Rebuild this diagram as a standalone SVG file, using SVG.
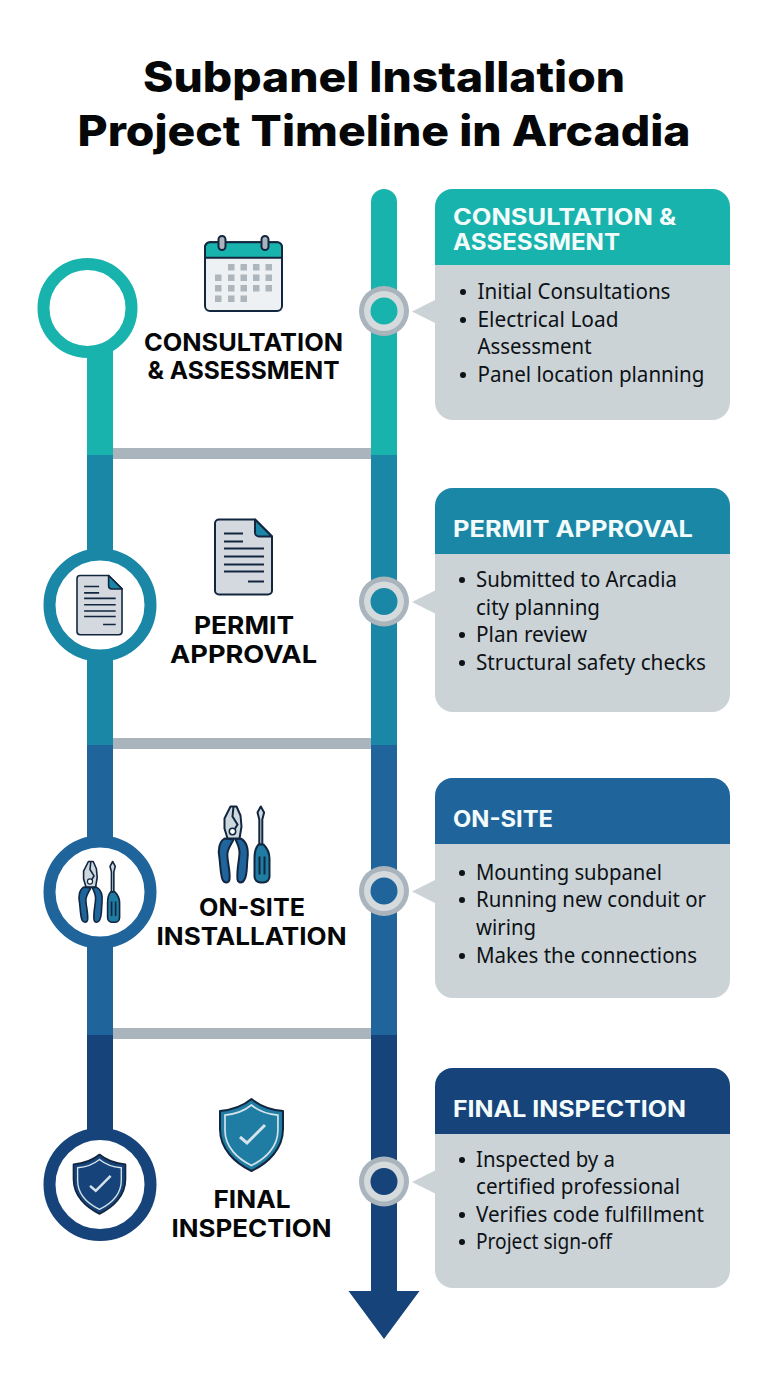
<svg xmlns="http://www.w3.org/2000/svg" xmlns:xlink="http://www.w3.org/1999/xlink" width="768" height="1376" viewBox="0 0 768 1376">
<style>
.title{font:800 42px Inter,"Liberation Sans",sans-serif;fill:#050708}
.lab{font:700 24.500px Inter,"Liberation Sans",sans-serif;fill:#050708}
.hd{font:700 22.500px Inter,"Liberation Sans",sans-serif;fill:#f4fbfb}
.li{font:400 21.500px "Noto Sans","Liberation Sans",sans-serif;fill:#0c1216}
.card{fill:#ccd3d7}
.bul{fill:#0c1216}
.rung{fill:#a9b4bd}
.ico{stroke:#12263f;stroke-width:2;stroke-linejoin:round}
.ln{stroke:#12263f;stroke-width:2;fill:none}
.sq{fill:#aeb6bd}
.hl{fill:none;stroke:#d5e3ea;stroke-width:2}
.ck{fill:none;stroke:#d5e3ea;stroke-width:3}
.r1{fill:#a9b4bd}.r2{fill:#d5dadd}
</style>
<defs>
<g id="doc">
<path class="ico" fill="#d3d9de" d="M4,0H40L57,17V71a4,4 0 0 1-4,4H4a4,4 0 0 1-4-4V4a4,4 0 0 1 4-4Z"/>
<path class="ico" fill="#1b87a7" d="M40,0L57,17H44a4,4 0 0 1-4-4Z"/>
<path class="ln" d="M9,14H28M9,22H28M9,29H49M9,37H49M9,45H49M9,52H49M33,62H49"/>
</g>
<g id="tools">
<path class="ico" fill="#cdd8df" d="M13,0H19L23,9L24,20L22,32H10L7,22L7,12Z"/>
<path class="ln" stroke-width="1.500" d="M16,0L15,10L20,18L17,23"/>
<circle cx="15" cy="25" r="3.200" fill="#fff" stroke="#12263f" stroke-width="1.500"/>
<path class="ico" fill="#1f659b" d="M7,32C2,35 0,43 2,52C3,60 3,68 5,73C7,77 11,77 12,73C13,63 9,53 10,46C11,41 14,37 16,33Z"/>
<path class="ico" fill="#1f659b" d="M23,32C29,35 31,43 30,52C29,60 30,68 27,73C25,77 21,77 20,73C19,63 22,53 22,46C22,41 20,37 18,33Z"/>
<path class="ico" fill="#cdd8df" stroke-width="1.500" d="M41.800,38V13L40,6L43.300,0L46.600,6L44.800,13V38Z"/>
<path class="ico" fill="#1f7ca3" d="M41,38H46C49,41 52,45 52,52V70A6,6 0 0 1 46,76H43A6,6 0 0 1 37,70V52C37,45 38,41 41,38Z"/>
<path class="ln" stroke-width="1.200" d="M42,50V68M47,50V68"/>
</g>
<path id="shieldP" d="M31.500,0C40,7 52,11 63,12V30C63,50 48,64 31.500,72C15,64 0,50 0,30V12C11,11 23,7 31.500,0Z"/>
<g id="shieldD">
<path class="hl" transform="translate(5,6) scale(.84)" d="M31.500,0C40,7 52,11 63,12V30C63,50 48,64 31.500,72C15,64 0,50 0,30V12C11,11 23,7 31.500,0Z"/>
<path class="ck" d="M20,38L27,44L45,26"/>
</g>
</defs>
<rect width="768" height="1376" fill="#fff"/>
<g id="title">
<text class="title" x="384" y="92" text-anchor="middle" textLength="482" lengthAdjust="spacingAndGlyphs">Subpanel Installation</text>
<text class="title" x="384" y="146" text-anchor="middle" textLength="613" lengthAdjust="spacingAndGlyphs">Project Timeline in Arcadia</text>
</g>
<g id="connectors">
<rect class="rung" x="113" y="448" width="258" height="11"/>
<rect class="rung" x="113" y="738" width="258" height="11"/>
<rect class="rung" x="113" y="1028" width="258" height="11"/>
<rect x="87" y="340" width="26" height="115" fill="#19b3ae"/>
<rect x="87" y="455" width="26" height="290" fill="#1b87a7"/>
<rect x="87" y="745" width="26" height="290" fill="#1f659b"/>
<rect x="87" y="1035" width="26" height="100" fill="#15437a"/>
<path d="M371,455V202a13,13 0 0 1 26,0V455Z" fill="#19b3ae"/>
<rect x="371" y="455" width="26" height="290" fill="#1b87a7"/>
<rect x="371" y="745" width="26" height="290" fill="#1f659b"/>
<path d="M371,1035H397V1291H419.500L384,1339L348.500,1291H371Z" fill="#15437a"/>
</g>
<g id="node-consultation">
<circle cx="87.500" cy="308" r="44" fill="#fff" stroke="#19b3ae" stroke-width="12"/>
<g id="icon-calendar" transform="translate(205,236)">
<rect class="ico" x="0" y="6.300" width="77" height="68.700" rx="5" fill="#eef1f3"/>
<path class="ico" fill="#19b3ae" d="M5,6.300H72a5,5 0 0 1 5,5V21.700H0V11.300a5,5 0 0 1 5-5Z"/>
<rect class="ico" x="13.500" y="0" width="7" height="14" rx="3.500" fill="#a9b4bd"/>
<rect class="ico" x="56.500" y="0" width="7" height="14" rx="3.500" fill="#a9b4bd"/>
<path class="sq" d="M23,28h6.500v6.500h-6.500zM35.500,28h6.500v6.500h-6.500zM48,28h6.500v6.500h-6.500zM60.500,28h6.500v6.500h-6.500zM10,38.500h6.500v6.500h-6.500zM23,38.500h6.500v6.500h-6.500zM35.500,38.500h6.500v6.500h-6.500zM48,38.500h6.500v6.500h-6.500zM60.500,38.500h6.500v6.500h-6.500zM10,49h6.500v6.500h-6.500zM23,49h6.500v6.500h-6.500zM35.500,49h6.500v6.500h-6.500zM48,49h6.500v6.500h-6.500zM60.500,49h6.500v6.500h-6.500zM10,59.500h6.500v6.500h-6.500zM23,59.500h6.500v6.500h-6.500zM35.500,59.500h6.500v6.500h-6.500z"/>
</g>
<text class="lab" x="243.500" y="351" text-anchor="middle" textLength="199" lengthAdjust="spacingAndGlyphs">CONSULTATION</text>
<text class="lab" x="243.500" y="379" text-anchor="middle" textLength="192" lengthAdjust="spacingAndGlyphs">&amp; ASSESSMENT</text>
</g>
<g id="marker-consultation"><circle class="r1" cx="384" cy="311" r="25"/><circle class="r2" cx="384" cy="311" r="20"/><circle cx="384" cy="311" r="13.500" fill="#19b3ae"/></g>
<g id="card-consultation">
<path class="card" d="M412,311.500L435,300V323Z"/>
<rect class="card" x="435" y="189" width="295" height="231" rx="18"/>
<path fill="#19b3ae" d="M453,189H712a18,18 0 0 1 18,18V265H435V207a18,18 0 0 1 18-18Z"/>
<text class="hd" x="453" y="225" textLength="223" lengthAdjust="spacingAndGlyphs">CONSULTATION &amp;</text>
<text class="hd" x="453" y="250" textLength="167" lengthAdjust="spacingAndGlyphs">ASSESSMENT</text>
<circle class="bul" cx="463" cy="292" r="3"/><circle class="bul" cx="463" cy="320" r="3"/><circle class="bul" cx="463" cy="375" r="3"/>
<text class="li" x="477.500" y="299" textLength="193" lengthAdjust="spacingAndGlyphs">Initial Consultations</text>
<text class="li" x="477.500" y="327" textLength="141" lengthAdjust="spacingAndGlyphs">Electrical Load</text>
<text class="li" x="477.500" y="354" textLength="114" lengthAdjust="spacingAndGlyphs">Assessment</text>
<text class="li" x="477.500" y="382" textLength="227" lengthAdjust="spacingAndGlyphs">Panel location planning</text>
</g>
<g id="node-permit">
<circle cx="100" cy="605" r="50.500" fill="#fff" stroke="#1b87a7" stroke-width="12"/>
<use xlink:href="#doc" href="#doc" transform="translate(77,575.500) scale(.79)"/>
<use xlink:href="#doc" href="#doc" transform="translate(215,519.500)"/>
<text class="lab" x="244" y="634" text-anchor="middle" textLength="100" lengthAdjust="spacingAndGlyphs">PERMIT</text>
<text class="lab" x="243.500" y="663" text-anchor="middle" textLength="147" lengthAdjust="spacingAndGlyphs">APPROVAL</text>
</g>
<g id="marker-permit"><circle class="r1" cx="384" cy="601.500" r="25"/><circle class="r2" cx="384" cy="601.500" r="20"/><circle cx="384" cy="601.500" r="13.500" fill="#1b87a7"/></g>
<g id="card-permit">
<path class="card" d="M412,602L435,590.500V613.500Z"/>
<rect class="card" x="435" y="488" width="295" height="224" rx="18"/>
<path fill="#1b87a7" d="M453,488H712a18,18 0 0 1 18,18V554H435V506a18,18 0 0 1 18-18Z"/>
<text class="hd" x="453" y="537" textLength="240" lengthAdjust="spacingAndGlyphs">PERMIT APPROVAL</text>
<circle class="bul" cx="462" cy="580" r="3"/><circle class="bul" cx="462" cy="635" r="3"/><circle class="bul" cx="462" cy="663" r="3"/>
<text class="li" x="476" y="587" textLength="201" lengthAdjust="spacingAndGlyphs">Submitted to Arcadia</text>
<text class="li" x="476" y="615" textLength="124" lengthAdjust="spacingAndGlyphs">city planning</text>
<text class="li" x="476" y="642" textLength="111" lengthAdjust="spacingAndGlyphs">Plan review</text>
<text class="li" x="476" y="670" textLength="230" lengthAdjust="spacingAndGlyphs">Structural safety checks</text>
</g>
<g id="node-onsite">
<circle cx="100" cy="892" r="50.500" fill="#fff" stroke="#1f659b" stroke-width="12"/>
<use xlink:href="#tools" href="#tools" transform="translate(78,861.500) scale(.8)"/>
<use xlink:href="#tools" href="#tools" transform="translate(217.500,806.500)"/>
<text class="lab" x="252" y="916" text-anchor="middle" textLength="106" lengthAdjust="spacingAndGlyphs">ON-SITE</text>
<text class="lab" x="251.500" y="944.500" text-anchor="middle" textLength="190" lengthAdjust="spacingAndGlyphs">INSTALLATION</text>
</g>
<g id="marker-onsite"><circle class="r1" cx="384" cy="891" r="25"/><circle class="r2" cx="384" cy="891" r="20"/><circle cx="384" cy="891" r="13.500" fill="#1f659b"/></g>
<g id="card-onsite">
<path class="card" d="M412,891.500L435,880V903Z"/>
<rect class="card" x="435" y="778" width="295" height="220" rx="18"/>
<path fill="#1f659b" d="M453,778H712a18,18 0 0 1 18,18V844H435V796a18,18 0 0 1 18-18Z"/>
<text class="hd" x="453" y="827" textLength="100" lengthAdjust="spacingAndGlyphs">ON-SITE</text>
<circle class="bul" cx="462" cy="873" r="3"/><circle class="bul" cx="462" cy="900" r="3"/><circle class="bul" cx="462" cy="956" r="3"/>
<text class="li" x="476" y="880" textLength="186" lengthAdjust="spacingAndGlyphs">Mounting subpanel</text>
<text class="li" x="476" y="907" textLength="230" lengthAdjust="spacingAndGlyphs">Running new conduit or</text>
<text class="li" x="476" y="935" textLength="60" lengthAdjust="spacingAndGlyphs">wiring</text>
<text class="li" x="476" y="963" textLength="221" lengthAdjust="spacingAndGlyphs">Makes the connections</text>
</g>
<g id="node-final">
<circle cx="100" cy="1184.500" r="50.500" fill="#fff" stroke="#15437a" stroke-width="12"/>
<g transform="translate(73.500,1154.500) scale(.825)"><use xlink:href="#shieldP" href="#shieldP" class="ico" fill="#15437a"/><use xlink:href="#shieldD" href="#shieldD"/></g>
<g transform="translate(220,1099)"><use xlink:href="#shieldP" href="#shieldP" class="ico" fill="#1f7ca3"/><use xlink:href="#shieldD" href="#shieldD"/></g>
<text class="lab" x="252" y="1207.500" text-anchor="middle" textLength="77" lengthAdjust="spacingAndGlyphs">FINAL</text>
<text class="lab" x="251.500" y="1236.500" text-anchor="middle" textLength="160" lengthAdjust="spacingAndGlyphs">INSPECTION</text>
</g>
<g id="marker-final"><circle class="r1" cx="384" cy="1181.500" r="25"/><circle class="r2" cx="384" cy="1181.500" r="20"/><circle cx="384" cy="1181.500" r="13.500" fill="#15437a"/></g>
<g id="card-final">
<path class="card" d="M412,1182L435,1170.500V1193.500Z"/>
<rect class="card" x="435" y="1068" width="295" height="220" rx="18"/>
<path fill="#15437a" d="M453,1068H712a18,18 0 0 1 18,18V1134H435V1086a18,18 0 0 1 18-18Z"/>
<text class="hd" x="453" y="1117" textLength="233" lengthAdjust="spacingAndGlyphs">FINAL INSPECTION</text>
<circle class="bul" cx="462" cy="1160" r="3"/><circle class="bul" cx="462" cy="1215" r="3"/><circle class="bul" cx="462" cy="1242" r="3"/>
<text class="li" x="476" y="1167" textLength="139" lengthAdjust="spacingAndGlyphs">Inspected by a</text>
<text class="li" x="476" y="1194" textLength="204" lengthAdjust="spacingAndGlyphs">certified professional</text>
<text class="li" x="476" y="1222" textLength="228" lengthAdjust="spacingAndGlyphs">Verifies code fulfillment</text>
<text class="li" x="476" y="1249" textLength="136" lengthAdjust="spacingAndGlyphs">Project sign-off</text>
</g>
</svg>
